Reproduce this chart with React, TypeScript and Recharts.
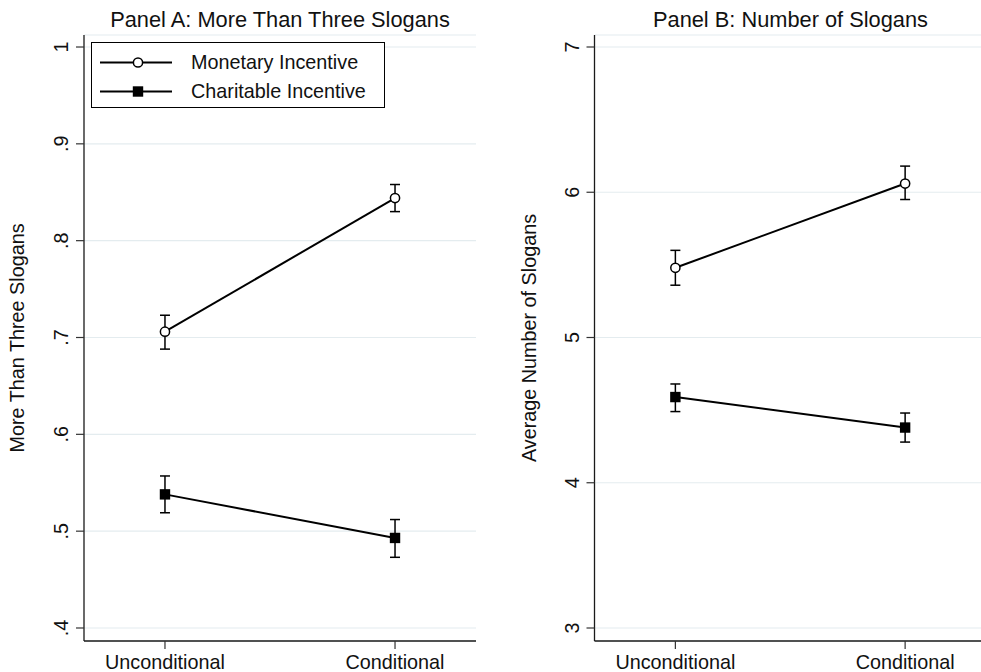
import React from "react"
import {
  LineChart,
  Line,
  XAxis,
  YAxis,
  CartesianGrid,
  ErrorBar,
  Legend,
  Label,
} from "recharts"

// categories on the x axis (placed at 0 and 1)
const categories = ["Unconditional", "Conditional"]
const catPos = [0, 1]
const seriesNames = ["Monetary Incentive", "Charitable Incentive"]

// Panel A: share with more than three slogans
const monetaryA = [0.706, 0.844]
const monetaryALow = [0.688, 0.83]
const monetaryAHigh = [0.723, 0.858]
const charitableA = [0.538, 0.493]
const charitableALow = [0.519, 0.473]
const charitableAHigh = [0.557, 0.512]
const yTicksA = [0.4, 0.5, 0.6, 0.7, 0.8, 0.9, 1]
const yTickLabelsA = [".4", ".5", ".6", ".7", ".8", ".9", "1"]

// Panel B: average number of slogans
const monetaryB = [5.48, 6.06]
const monetaryBLow = [5.36, 5.95]
const monetaryBHigh = [5.6, 6.18]
const charitableB = [4.59, 4.38]
const charitableBLow = [4.49, 4.28]
const charitableBHigh = [4.68, 4.48]
const yTicksB = [3, 4, 5, 6, 7]
const yTickLabelsB = ["3", "4", "5", "6", "7"]

const FONT = '"Liberation Sans", Arial, Helvetica, sans-serif'
const TICK_SIZE = 19.8
const GRID = "#e4ecef"
const AXIS = "#1a1a1a"

function buildRows(
  mon: number[], monLo: number[], monHi: number[],
  cha: number[], chaLo: number[], chaHi: number[]
) {
  return catPos.map((x, i) => ({
    x,
    monetary: mon[i],
    monetaryErr: [mon[i] - monLo[i], monHi[i] - mon[i]],
    charitable: cha[i],
    charitableErr: [cha[i] - chaLo[i], chaHi[i] - cha[i]],
  }))
}

const rowsA = buildRows(monetaryA, monetaryALow, monetaryAHigh, charitableA, charitableALow, charitableAHigh)
const rowsB = buildRows(monetaryB, monetaryBLow, monetaryBHigh, charitableB, charitableBLow, charitableBHigh)

/** hollow circle marker */
function CircleDot(props: any) {
  const { cx, cy, index } = props
  if (cx == null || cy == null) return <g key={`c-${index}`} />
  return <circle key={`c-${index}`} cx={cx} cy={cy} r={4.6} fill="#fff" stroke="#000" strokeWidth={1.5} />
}

/** filled square marker */
function SquareDot(props: any) {
  const { cx, cy, index } = props
  if (cx == null || cy == null) return <g key={`s-${index}`} />
  return <rect key={`s-${index}`} x={cx - 5.2} y={cy - 5.2} width={10.4} height={10.4} fill="#000" />
}

function XTick(props: any) {
  const { x, y, payload } = props
  return (
    <text x={x} y={y} dy={18} textAnchor="middle" fontFamily={FONT} fontSize={TICK_SIZE} fill="#111">
      {categories[catPos.indexOf(payload.value)]}
    </text>
  )
}

function makeYTick(ticks: number[], labels: string[]) {
  return function YTick(props: any) {
    const { x, y, payload } = props
    const i = ticks.findIndex((t) => Math.abs(t - payload.value) < 1e-9)
    return (
      <text
        transform={`translate(${x - 6},${y}) rotate(-90)`}
        textAnchor="middle"
        fontFamily={FONT}
        fontSize={TICK_SIZE}
        fill="#111"
      >
        {labels[i]}
      </text>
    )
  }
}

function makeYTitle(text: string, x: number) {
  return function YTitle(props: any) {
    const vb = props.viewBox || {}
    const cy = (vb.y ?? 35) + (vb.height ?? 606) / 2
    return (
      <text
        transform={`translate(${x},${cy}) rotate(-90)`}
        textAnchor="middle"
        fontFamily={FONT}
        fontSize={TICK_SIZE}
        fill="#111"
      >
        {text}
      </text>
    )
  }
}

function LegendBox() {
  const row = (i: number) => (
    <div key={i} style={{ position: "absolute", left: 0, top: i === 0 ? 5 : 34, height: 29, width: "100%" }}>
      <svg width={80} height={29} style={{ position: "absolute", left: 0, top: 0 }}>
        <line x1={8} y1={14.5} x2={82} y2={14.5} stroke="#000" strokeWidth={2} />
        {i === 0 ? (
          <circle cx={46} cy={14.5} r={4.6} fill="#fff" stroke="#000" strokeWidth={1.5} />
        ) : (
          <rect x={40.8} y={9.3} width={10.4} height={10.4} fill="#000" />
        )}
      </svg>
      <span
        style={{
          position: "absolute",
          left: 99,
          top: 0,
          lineHeight: "29px",
          fontFamily: FONT,
          fontSize: TICK_SIZE,
          color: "#111",
          whiteSpace: "nowrap",
        }}
      >
        {seriesNames[i]}
      </span>
    </div>
  )
  return (
    <div
      style={{
        position: "relative",
        width: 294,
        height: 66,
        border: "1.3px solid #000",
        boxSizing: "border-box",
        background: "#fff",
      }}
    >
      {row(0)}
      {row(1)}
    </div>
  )
}

interface PanelProps {
  rows: ReturnType<typeof buildRows>
  yDomain: [number, number]
  yTicks: number[]
  yLabels: string[]
  yTitle: string
  yTitleX: number
  axisWidth: number
  showLegend?: boolean
}

function Panel({ rows, yDomain, yTicks, yLabels, yTitle, yTitleX, axisWidth, showLegend }: PanelProps) {
  return (
    <LineChart width={500} height={672} data={rows} margin={{ top: 35, right: 24, bottom: 0, left: 0 }}>
      <CartesianGrid vertical={false} stroke={GRID} strokeWidth={1.2} />
      <XAxis
        dataKey="x"
        type="number"
        domain={[-0.352, 1.352]}
        ticks={catPos}
        allowDataOverflow
        height={31}
        tickSize={8}
        tickMargin={2}
        tick={<XTick />}
        axisLine={{ stroke: AXIS, strokeWidth: 1.3 }}
        tickLine={{ stroke: "#333", strokeWidth: 1.2 }}
      />
      <YAxis
        type="number"
        domain={yDomain}
        ticks={yTicks}
        allowDataOverflow
        width={axisWidth}
        tickSize={8}
        tickMargin={2}
        tick={makeYTick(yTicks, yLabels)}
        axisLine={{ stroke: AXIS, strokeWidth: 1.3 }}
        tickLine={{ stroke: "#333", strokeWidth: 1.2 }}
      >
        <Label content={makeYTitle(yTitle, yTitleX)} />
      </YAxis>
      {showLegend && (
        <Legend
          layout="vertical"
          align="center"
          verticalAlign="middle"
          content={<LegendBox />}
          wrapperStyle={{ position: "absolute", left: 91, top: 42, width: 294, height: 66 }}
        />
      )}
      <Line
        type="linear"
        dataKey="monetary"
        name={seriesNames[0]}
        stroke="#000"
        strokeWidth={2}
        dot={CircleDot}
        activeDot={false}
        isAnimationActive={false}
      >
        <ErrorBar dataKey="monetaryErr" width={5} stroke="#000" strokeWidth={1.5} direction="y" isAnimationActive={false} />
      </Line>
      <Line
        type="linear"
        dataKey="charitable"
        name={seriesNames[1]}
        stroke="#000"
        strokeWidth={2}
        dot={SquareDot}
        activeDot={false}
        isAnimationActive={false}
      >
        <ErrorBar dataKey="charitableErr" width={5} stroke="#000" strokeWidth={1.5} direction="y" isAnimationActive={false} />
      </Line>
    </LineChart>
  )
}

export default function App() {
  return (
    <div
      style={{
        position: "absolute",
        left: 0,
        top: 0,
        width: 981,
        height: 672,
        overflow: "hidden",
        background: "#fff",
      }}
    >
      <div style={{ position: "absolute", left: 0, top: 0 }}>
        <Panel
          rows={rowsA}
          yDomain={[0.38657, 1.0124]}
          yTicks={yTicksA}
          yLabels={yTickLabelsA}
          yTitle="More Than Three Slogans"
          yTitleX={24}
          axisWidth={84}
          showLegend
        />
      </div>
      <div style={{ position: "absolute", left: 510, top: 0 }}>
        <Panel
          rows={rowsB}
          yDomain={[2.9105, 7.0826]}
          yTicks={yTicksB}
          yLabels={yTickLabelsB}
          yTitle="Average Number of Slogans"
          yTitleX={26}
          axisWidth={84.5}
        />
      </div>
      <svg width={981} height={40} style={{ position: "absolute", left: 0, top: 0, pointerEvents: "none" }}>
        <text x={280} y={26.5} textAnchor="middle" fontFamily={FONT} fontSize={21.8} fill="#111">
          Panel A: More Than Three Slogans
        </text>
        <text x={790.5} y={26.5} textAnchor="middle" fontFamily={FONT} fontSize={21.8} fill="#111">
          Panel B: Number of Slogans
        </text>
      </svg>
    </div>
  )
}
